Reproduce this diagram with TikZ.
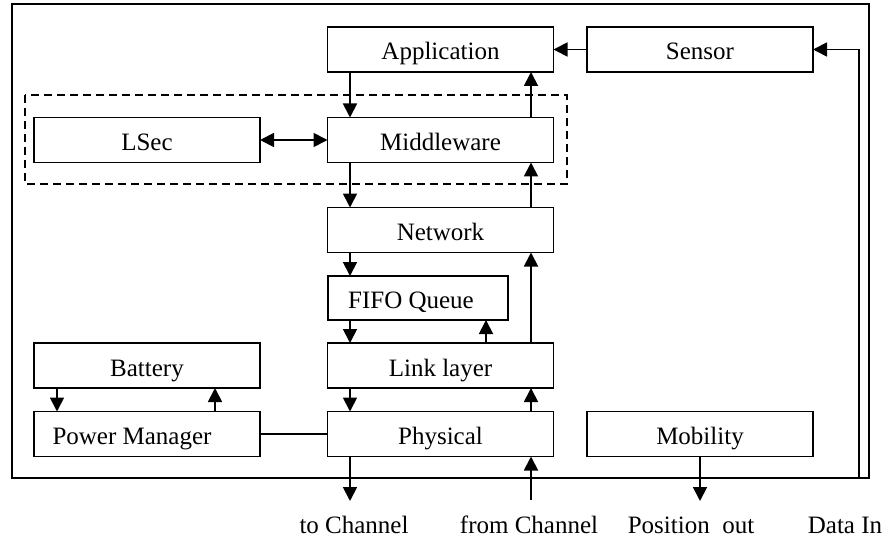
\documentclass[tikz,border=0pt]{standalone}
\usepackage{fontspec}
\setmainfont{Liberation Serif}
\usetikzlibrary{arrows.meta}
\begin{document}
\begin{tikzpicture}[x=1pt,y=-1pt,
  box/.style={draw,line width=1.8pt,inner sep=0pt,outer sep=0pt,text height=21pt,text depth=0pt,font=\fontsize{25}{30}\selectfont},
  wide/.style={minimum width=226pt,minimum height=45pt},
  tip/.tip={Triangle[length=14pt,width=14pt]},
  arr/.style={line width=1.8pt,-tip},
  dbl/.style={line width=1.8pt,tip-tip},
  plain/.style={line width=1.8pt},
  lbl/.style={anchor=base,inner sep=0pt,font=\fontsize{25}{30}\selectfont}]
\useasboundingbox (0,0) rectangle (885,540);
% outer frame and dashed group
\draw[plain] (12,4) rectangle (869,478);
\draw[line width=1.5pt,dash pattern=on 8pt off 5pt] (25,95) rectangle (567,184);
% boxes
\node[box,wide] (app) at (440.5,49.5) {Application};
\node[box,wide] (sensor) at (700,49.5) {Sensor};
\node[box,wide] (lsec) at (147,140) {LSec};
\node[box,wide] (mid) at (440.5,140) {Middleware};
\node[box,wide] (net) at (440.5,230) {Network};
\node[box,minimum width=180pt,minimum height=44pt] (fifo) at (418,298) {FIFO Queue\hspace*{14pt}};
\node[box,wide] (link) at (440.5,365.5) {Link layer};
\node[box,wide] (bat) at (147,365.5) {Battery};
\node[box,wide] (pm) at (147,434) {Power Manager\hspace*{30pt}};
\node[box,wide] (phy) at (440.5,434) {Physical};
\node[box,wide] (mob) at (700,434) {Mobility};
% reference x positions
\coordinate (L) at (350,0);
\coordinate (R) at (531,0);
\coordinate (Q) at (486,0);
\coordinate (B1) at (57,0);
\coordinate (B2) at (215,0);
\coordinate (M) at (700,0);
\coordinate (toch) at (350,501);
\coordinate (fromch) at (531,500);
\coordinate (posout) at (700,501);
\coordinate (din) at (859,478);
% connectors
\draw[arr] (app.south -| L) -- (mid.north -| L);
\draw[arr] (mid.north -| R) -- (app.south -| R);
\draw[arr] (sensor.west) -- (app.east);
\draw[dbl] (lsec.east) -- (mid.west);
\draw[arr] (mid.south -| L) -- (net.north -| L);
\draw[arr] (net.north -| R) -- (mid.south -| R);
\draw[arr] (net.south -| L) -- (fifo.north -| L);
\draw[arr] (fifo.south -| L) -- (link.north -| L);
\draw[arr] (link.north -| Q) -- (fifo.south -| Q);
\draw[arr] (link.north -| R) -- (net.south -| R);
\draw[arr] (link.south -| L) -- (phy.north -| L);
\draw[arr] (phy.north -| R) -- (link.south -| R);
\draw[arr] (bat.south -| B1) -- (pm.north -| B1);
\draw[arr] (pm.north -| B2) -- (bat.south -| B2);
\draw[plain] (pm.east) -- (phy.west);
\draw[arr] (phy.south -| L) -- (toch);
\draw[arr] (fromch) -- (phy.south -| R);
\draw[arr] (mob.south -| M) -- (posout);
\draw[arr] (din) |- (sensor.east);
% bottom labels
\node[lbl] (t1) at (354,533) {to Channel};
\node[lbl] (t2) at (529,533) {from Channel};
\node[lbl] (t3) at (691,533) {Position\ \ out};
\node[lbl] (t4) at (845,533) {Data In};
\end{tikzpicture}
\end{document}
